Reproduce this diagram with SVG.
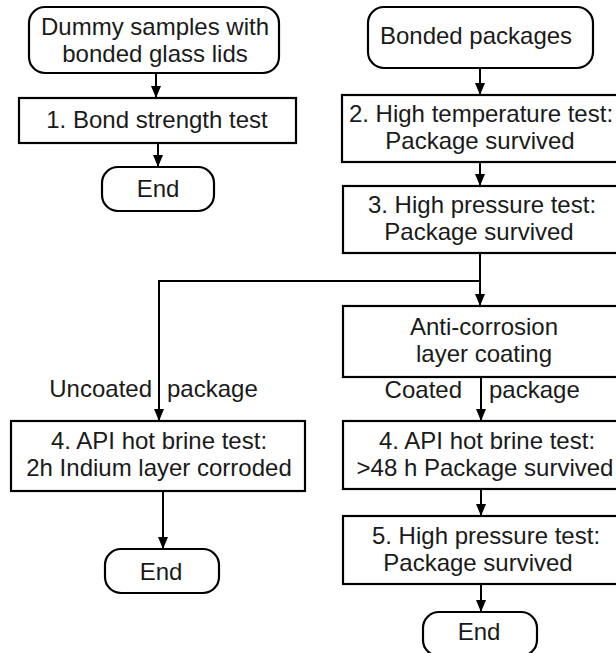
<svg xmlns="http://www.w3.org/2000/svg" width="616" height="653" viewBox="0 0 616 653">
<style>
.box{fill:#fff;stroke:#000;stroke-width:2.2}
.t{font-family:"Liberation Sans",Arial,sans-serif;font-size:24px;fill:#1a1a1a;text-anchor:middle}
.l{font-family:"Liberation Sans",Arial,sans-serif;font-size:24px;fill:#1a1a1a}
.c{fill:none;stroke:#000;stroke-width:2}
</style>
<defs>
<marker id="ah" markerWidth="12" markerHeight="10" refX="12" refY="5" orient="auto" markerUnits="userSpaceOnUse">
<path d="M0,0 L12,5 L0,10 Z" fill="#000"/>
</marker>
</defs>
<rect width="616" height="653" fill="#fff"/>
<g id="connectors">
<line class="c" x1="156" y1="73" x2="156" y2="98" marker-end="url(#ah)"/>
<line class="c" x1="158" y1="143" x2="158" y2="167" marker-end="url(#ah)"/>
<line class="c" x1="480" y1="68" x2="480" y2="95" marker-end="url(#ah)"/>
<line class="c" x1="480" y1="162" x2="480" y2="186" marker-end="url(#ah)"/>
<line class="c" x1="480" y1="253" x2="480" y2="306" marker-end="url(#ah)"/>
<polyline class="c" points="480,281 159,281 159,421" marker-end="url(#ah)"/>
<line class="c" x1="481" y1="377" x2="481" y2="421" marker-end="url(#ah)"/>
<line class="c" x1="163" y1="491" x2="163" y2="549" marker-end="url(#ah)"/>
<line class="c" x1="481" y1="489" x2="481" y2="516" marker-end="url(#ah)"/>
<line class="c" x1="481" y1="584" x2="481" y2="612" marker-end="url(#ah)"/>
<text class="l" x="152" y="397" text-anchor="end">Uncoated</text>
<text class="l" x="167" y="397">package</text>
<text class="l" x="462" y="398" text-anchor="end">Coated</text>
<text class="l" x="489" y="398">package</text>
</g>
<g id="dummy">
<rect class="box" x="29" y="7" width="250" height="66" rx="16"/>
<text class="t" x="155" y="35">Dummy samples with</text>
<text class="t" x="155" y="62">bonded glass lids</text>
</g>
<g id="bond">
<rect class="box" x="19" y="98" width="277" height="45"/>
<text class="t" x="157" y="128">1. Bond strength test</text>
</g>
<g id="end1">
<rect class="box" x="102" y="167" width="112" height="44" rx="16"/>
<text class="t" x="158" y="197">End</text>
</g>
<g id="bonded">
<rect class="box" x="368" y="7" width="225" height="61" rx="16"/>
<text class="t" x="476" y="44">Bonded packages</text>
</g>
<g id="hightemp">
<rect class="box" x="342" y="95" width="290" height="67"/>
<text class="t" x="481" y="122">2. High temperature test:</text>
<text class="t" x="480" y="149">Package survived</text>
</g>
<g id="highpress1">
<rect class="box" x="343" y="186" width="290" height="67"/>
<text class="t" x="482" y="213">3. High pressure test:</text>
<text class="t" x="479" y="240">Package survived</text>
</g>
<g id="coating">
<rect class="box" x="343" y="306" width="290" height="71"/>
<text class="t" x="484" y="335">Anti-corrosion</text>
<text class="t" x="484" y="362">layer coating</text>
</g>
<g id="brine-uncoated">
<rect class="box" x="11" y="421" width="294" height="70"/>
<text class="t" x="159" y="449">4. API hot brine test:</text>
<text class="t" x="159" y="476">2h Indium layer corroded</text>
</g>
<g id="end2">
<rect class="box" x="105" y="549" width="114" height="44" rx="16"/>
<text class="t" x="161" y="580">End</text>
</g>
<g id="brine-coated">
<rect class="box" x="343" y="421" width="290" height="68"/>
<text class="t" x="487" y="449">4. API hot brine test:</text>
<text class="t" x="485" y="476">&gt;48 h Package survived</text>
</g>
<g id="highpress2">
<rect class="box" x="343" y="516" width="290" height="68"/>
<text class="t" x="486" y="544">5. High pressure test:</text>
<text class="t" x="478" y="571">Package survived</text>
</g>
<g id="end3">
<rect class="box" x="423" y="612" width="114" height="44" rx="16"/>
<text class="t" x="479" y="640">End</text>
</g>
</svg>
